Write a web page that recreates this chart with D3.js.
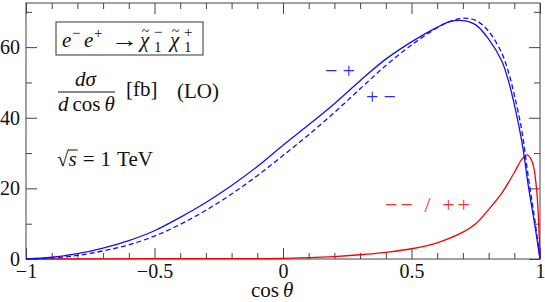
<!DOCTYPE html>
<html>
<head>
<meta charset="utf-8">
<script src="https://cdn.jsdelivr.net/npm/d3@7"></script>
<style>
  body { margin: 0; background: #fff; }
  svg text { font-family: 'Liberation Serif', 'Times New Roman', serif; }
  .axis line { stroke: #444; }
  .axis text { font-size: 20px; fill: #111; }
</style>
</head>
<body>
<div class="graph"></div>
<script>
(function() {
    var serif = "'Liberation Serif', 'Times New Roman', serif";

    // cos(theta) grid for the chargino curves
    var cosTheta = [-1, -0.9, -0.8, -0.7, -0.6, -0.5, -0.4, -0.3, -0.2, -0.1, 0, 0.1, 0.2, 0.3, 0.4, 0.5, 0.6, 0.65, 0.7, 0.75, 0.8, 0.85, 0.875, 0.9, 0.93, 0.955, 0.98, 1];
    // -+ helicities (solid) and +- (dashed), fb
    var minusPlus = [0, 0.5, 1.5, 3.1, 5.2, 8.0, 11.8, 16.0, 20.8, 26.2, 32.2, 38.0, 44.0, 50.5, 56.6, 61.5, 65.6, 67.2, 67.5, 66.3, 62.3, 56.3, 51.0, 43.8, 33.0, 20.5, 9.5, 0];
    var plusMinus = [0, 0.3, 1.0, 2.3, 4.0, 6.5, 9.8, 13.8, 18.4, 23.6, 29.3, 35.2, 41.5, 48.2, 54.8, 60.6, 65.5, 67.3, 68.2, 67.6, 64.5, 58.5, 53.5, 46.5, 36.0, 23.0, 11.0, 0];
    // --/++ needs a finer grid near cos = 1
    var cosThetaSame = [-1, -0.5, 0, 0.2, 0.3, 0.4, 0.5, 0.6, 0.7, 0.75, 0.8, 0.85, 0.9, 0.93, 0.95, 0.97, 0.985, 0.993, 0.997, 1];
    var sameSign = [0, 0.1, 0.2, 0.7, 1.2, 1.9, 2.9, 4.6, 7.6, 10.0, 14.0, 18.5, 24.5, 28.3, 29.5, 27.5, 21.0, 13.0, 6.0, 0];

    var xMajor = [-1, -0.5, 0, 0.5, 1];
    var xTickLabels = ["\u22121", "\u22120.5", "0", "0.5", "1"];
    var xMinor = d3.range(-9, 10).map(function(i) { return i / 10; }).filter(function(d) { return xMajor.indexOf(d) < 0; });
    var yMajor = [0, 20, 40, 60];
    var yTickLabels = ["0", "20", "40", "60"];
    var yMinor = [10, 30, 50, 70];

    var widthBase = 545;
    var heightBase = 302;
    var left = 26, right = 540, top = 3, bottom = 259;

    var x = d3.scaleLinear().domain([-1, 1]).range([left, right]);
    var y = d3.scaleLinear().domain([0, 72.5]).range([bottom, top]);

    var svg = d3.select(".graph")
        .append("svg")
            .attr("width", widthBase)
            .attr("height", heightBase);

    // frame
    svg.append("rect")
        .attr("x", left).attr("y", top)
        .attr("width", right - left).attr("height", bottom - top)
        .attr("fill", "none").attr("stroke", "#444").attr("stroke-width", 1);

    function addAxis(axis, transform) {
        var g = svg.append("g").attr("class", "axis").attr("transform", transform).call(axis);
        g.attr("font-family", serif).attr("font-size", 20);
        g.select(".domain").remove();
        return g;
    }

    addAxis(d3.axisBottom(x).tickValues(xMajor).tickSizeInner(-11).tickSizeOuter(0).tickPadding(5)
        .tickFormat(function(d, i) { return xTickLabels[i]; }), "translate(0," + bottom + ")");
    addAxis(d3.axisBottom(x).tickValues(xMinor).tickSizeInner(-6).tickSizeOuter(0).tickFormat(""), "translate(0," + bottom + ")");
    addAxis(d3.axisTop(x).tickValues(xMajor).tickSizeInner(-11).tickSizeOuter(0).tickFormat(""), "translate(0," + top + ")");
    addAxis(d3.axisTop(x).tickValues(xMinor).tickSizeInner(-6).tickSizeOuter(0).tickFormat(""), "translate(0," + top + ")");

    addAxis(d3.axisLeft(y).tickValues(yMajor).tickSizeInner(-11).tickSizeOuter(0).tickPadding(6)
        .tickFormat(function(d, i) { return yTickLabels[i]; }), "translate(" + left + ",0)");
    addAxis(d3.axisLeft(y).tickValues(yMinor).tickSizeInner(-6).tickSizeOuter(0).tickFormat(""), "translate(" + left + ",0)");
    addAxis(d3.axisRight(y).tickValues(yMajor).tickSizeInner(-11).tickSizeOuter(0).tickFormat(""), "translate(" + right + ",0)");
    addAxis(d3.axisRight(y).tickValues(yMinor).tickSizeInner(-6).tickSizeOuter(0).tickFormat(""), "translate(" + right + ",0)");

    // curves
    function drawCurve(xs, ys, color, dash) {
        var line = d3.line()
            .x(function(d, i) { return x(xs[i]); })
            .y(function(d) { return y(d); })
            .curve(d3.curveCatmullRom.alpha(0.5));
        svg.append("path")
            .datum(ys)
            .attr("d", line)
            .attr("fill", "none")
            .attr("stroke", color)
            .attr("stroke-width", 1.3)
            .attr("stroke-dasharray", dash || null);
    }
    drawCurve(cosThetaSame, sameSign, "#ff0000");
    drawCurve(cosTheta, plusMinus, "#1010ff", "5,3");
    drawCurve(cosTheta, minusPlus, "#1010ff");

    // a row of math pieces, laid out left to right (p.x pins a piece)
    function mathRow(px, py, pieces, color) {
        var g = svg.append("g").attr("fill", color || "#111");
        var cx = px, prevStart = px;
        pieces.forEach(function(p) {
            var size = p.size || 21;
            var startX = p.x != null ? p.x : (p.stack ? prevStart : cx);
            var t = g.append("text")
                .attr("x", startX)
                .attr("y", py + (p.dy || 0))
                .style("font-family", serif)
                .style("font-size", size + "px")
                .style("font-style", p.it ? "italic" : "normal")
                .text(p.t);
            if (p.sx) {
                t.attr("transform", "translate(" + startX + ",0) scale(" + p.sx + ",1) translate(" + (-startX) + ",0)");
            }
            var w = t.node().getComputedTextLength() * (p.sx || 1);
            if (p.tilde) {
                g.append("text")
                    .attr("x", startX + w / 2 + 1)
                    .attr("y", py - 11)
                    .attr("text-anchor", "middle")
                    .style("font-family", serif)
                    .style("font-size", "14px")
                    .text("~");
            }
            if (p.stack) {
                cx = Math.max(cx, startX + w);
            } else {
                prevStart = startX;
                cx = startX + w;
            }
            cx += p.gap || 0;
        });
        return { g: g, end: cx };
    }

    // process box
    mathRow(62, 47, [
        { t: "e", it: true, x: 62 },
        { t: "\u2212", size: 15, dy: -9, x: 72 },
        { t: "e", it: true, x: 84 },
        { t: "+", size: 15, dy: -9, x: 94 },
        { t: "\u2192", x: 111, size: 22, sx: 1.25 },
        { t: "\u03C7", it: true, tilde: true, x: 140 },
        { t: "1", size: 15, dy: 5, x: 154 },
        { t: "\u2212", size: 15, dy: -10, x: 154 },
        { t: "\u03C7", it: true, tilde: true, x: 170 },
        { t: "1", size: 15, dy: 5, x: 184 },
        { t: "+", size: 15, dy: -10, x: 184 }
    ]);
    svg.append("rect")
        .attr("x", 56).attr("y", 22).attr("width", 147).attr("height", 33)
        .attr("fill", "none").attr("stroke", "#333").attr("stroke-width", 1);

    // d sigma / d cos theta
    mathRow(75, 86, [{ t: "d", it: true }, { t: "\u03C3", it: true }]);
    mathRow(58, 111, [{ t: "d", it: true, gap: 4 }, { t: "cos", gap: 4 }, { t: "\u03B8", it: true }]);
    svg.append("line")
        .attr("x1", 58).attr("x2", 115)
        .attr("y1", 92).attr("y2", 92)
        .attr("stroke", "#111").attr("stroke-width", 1);
    mathRow(126, 96, [{ t: "[fb]" }]);
    mathRow(177, 98, [{ t: "(LO)" }]);

    // sqrt(s) = 1 TeV
    var root = mathRow(57, 166, [{ t: "\u221A", gap: 0 }, { t: "s", it: true, gap: 6 }, { t: "=", gap: 6 }, { t: "1", gap: 6 }, { t: "TeV" }]);
    var sq = root.g.selectAll("text").nodes();
    var b0 = sq[0].getBBox(), b1 = sq[1].getBBox();
    root.g.append("line")
        .attr("x1", b0.x + b0.width - 1).attr("x2", b1.x + b1.width + 1)
        .attr("y1", b0.y + 3).attr("y2", b0.y + 3)
        .attr("stroke", "#111").attr("stroke-width", 1);

    // helicity labels
    function signLabel(px, py, txt, len, color) {
        svg.append("text")
            .attr("x", px).attr("y", py)
            .attr("textLength", len).attr("lengthAdjust", "spacing")
            .attr("fill", color)
            .style("font-family", serif)
            .style("font-size", "22px")
            .text(txt);
    }
    signLabel(325, 78, "\u2212+", 30, "#2a2aff");
    signLabel(366, 104, "+\u2212", 30, "#2a2aff");
    signLabel(385, 212, "\u2212\u2212 / ++", 85, "#ff3030");

    // x axis title
    mathRow(251, 297, [{ t: "cos", gap: 4 }, { t: "\u03B8", it: true }]);
})();
</script>
</body>
</html>
